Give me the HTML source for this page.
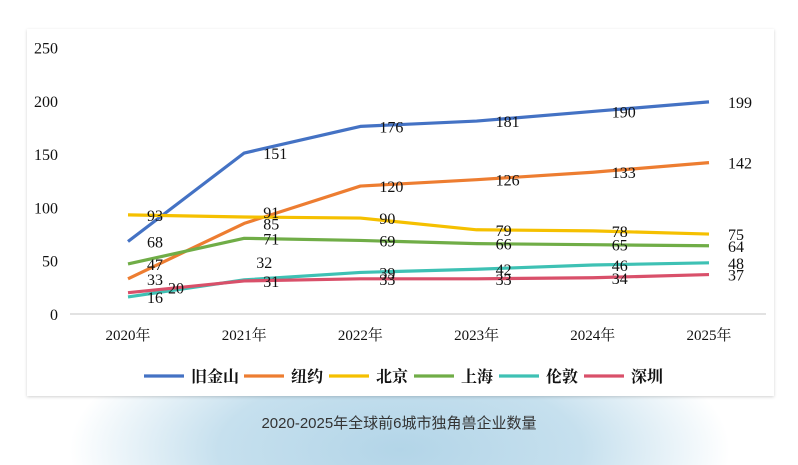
<!DOCTYPE html>
<html><head><meta charset="utf-8"><style>
html,body{margin:0;padding:0;width:798px;height:465px;overflow:hidden;background:#fff;font-family:"Liberation Serif","Noto Serif CJK SC",serif}
#bg{position:absolute;left:0;top:360px;width:798px;height:105px;background:radial-gradient(ellipse 330px 140px at 400px 90px,#b3d5e8 0%,#c6e0ee 55%,#fff 100%)}
#card{position:absolute;left:27px;top:29px;width:747px;height:367px;background:#fff;box-shadow:0 1px 3px rgba(0,0,0,.18)}
#cap{position:absolute;left:0;width:798px;top:412px;text-align:center;font:15px "Liberation Sans","Noto Sans CJK SC",sans-serif;color:#333}
svg{position:absolute;left:0;top:0}
</style></head><body>
<div id="bg"></div>
<div id="card"></div>
<svg id="chart" width="798" height="465"></svg>
<div id="cap">2020-2025年全球前6城市独角兽企业数量</div>
<script>
const categories=["2020年","2021年","2022年","2023年","2024年","2025年"];
const seriesNames=["旧金山","纽约","北京","上海","伦敦","深圳"];
const sf=[68,151,176,181,190,199];
const ny=[33,85,120,126,133,142];
const bj=[93,91,90,79,78,75];
const sh=[47,71,69,66,65,64];
const ld=[16,32,39,42,46,48];
const sz=[20,31,33,33,34,37];
const yTicks=[0,50,100,150,200,250];
const colors=["#4472c4","#ed7d31","#f5c000","#70ad47","#3ec1b4","#d9506a"];
const series=[sf,ny,bj,sh,ld,sz];
const NS="http://www.w3.org/2000/svg";
const svg=document.getElementById("chart");
const x=i=>128+i*116.2;
const y=v=>314-v*(266.5/250);
function mk(t,a){const e=document.createElementNS(NS,t);for(const k in a)e.setAttribute(k,a[k]);svg.appendChild(e);return e;}
yTicks.forEach(v=>{const t=mk("text",{x:58,y:y(v)+6,"text-anchor":"end","font-size":"16",fill:"#111"});t.textContent=v;

});
const ax=mk("line",{x1:70,x2:766,y1:314,y2:314,stroke:"#d9d9d9","stroke-width":1.5});


categories.forEach((c,i)=>{const t=mk("text",{x:x(i),y:340,"text-anchor":"middle","font-size":"15",fill:"#111"});t.textContent=c;

});
series.forEach((s,k)=>{
 const p=mk("polyline",{points:s.map((v,i)=>x(i)+","+y(v)).join(" "),fill:"none",stroke:colors[k],"stroke-width":3.2,"stroke-linejoin":"round"});
 
 
});
function off(k,i){
 if(k==5&&i==0)return [40,1];
 if(k==4&&i==1)return [12,-12];
 if(k==2&&i==1)return [19,1];
 return [19,6];
}
series.forEach((s,k)=>{s.forEach((v,i)=>{
 const o=off(k,i);
 const t=mk("text",{x:x(i)+o[0],y:y(v)+o[1],"font-size":"16",fill:"#111"});t.textContent=v;
 
 
});});
let lx=144;
seriesNames.forEach((n,k)=>{
 const l=mk("line",{x1:lx,x2:lx+40,y1:376,y2:376,stroke:colors[k],"stroke-width":3.2});
 
 
 const t=mk("text",{x:lx+47,y:382,"font-size":"16","font-weight":"bold",fill:"#111"});t.textContent=n;
 
 
 lx+=n.length==3?100:85;
});
</script>
</body></html>
